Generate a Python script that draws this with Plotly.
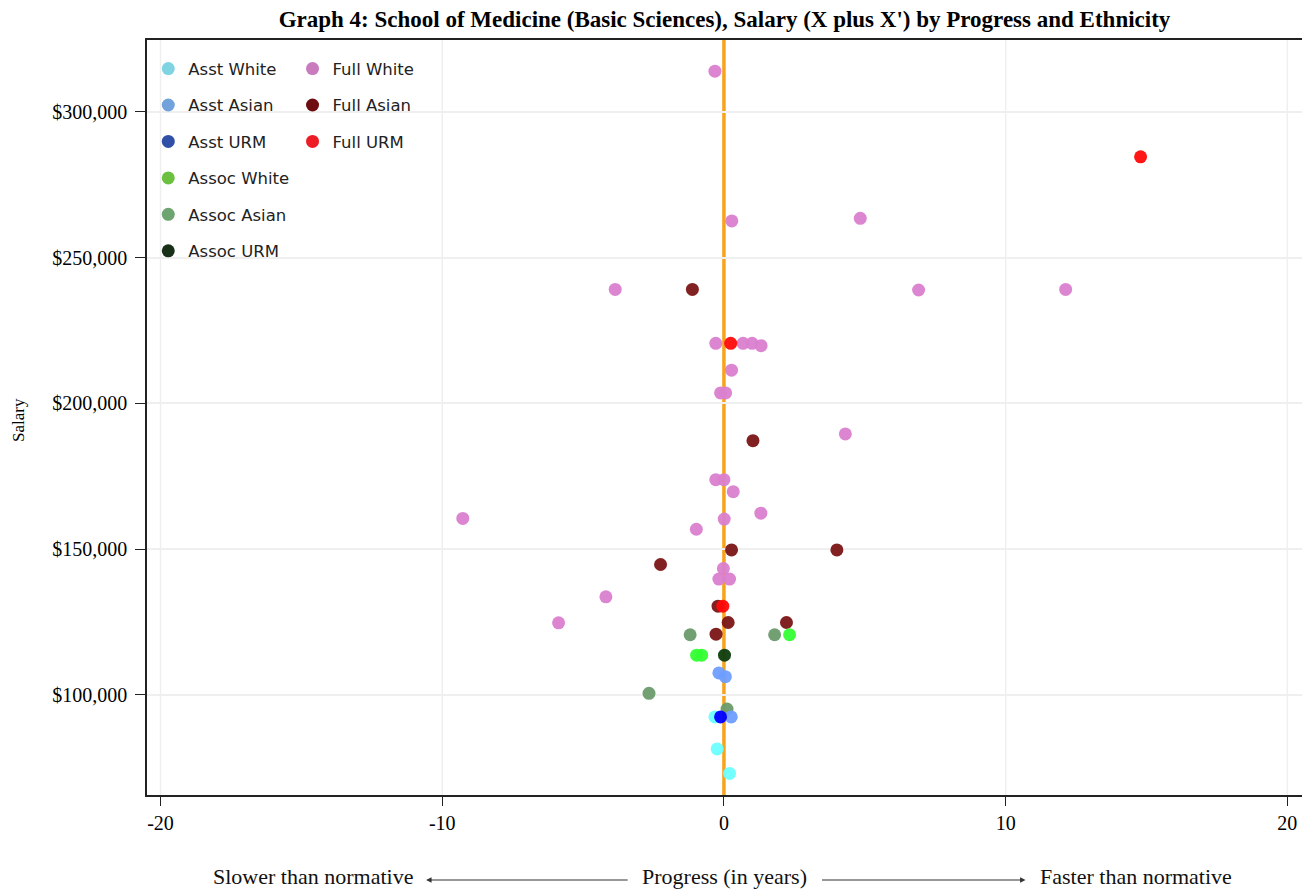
import plotly.graph_objects as go

# ---------------- data (progress in years, salary in $) ----------------
groups = ["Asst White", "Asst Asian", "Asst URM", "Assoc White", "Assoc Asian", "Assoc URM",
          "Full White", "Full Asian", "Full URM"]

asst_white_x = [-0.32, -0.24, 0.20]
asst_white_y = [92400, 81400, 73000]

asst_asian_x = [-0.18, 0.05, 0.26]
asst_asian_y = [107500, 106200, 92400]

asst_urm_x = [-0.12]
asst_urm_y = [92400]

assoc_white_x = [2.33, -0.97, -0.79]
assoc_white_y = [120600, 113600, 113600]

assoc_asian_x = [-1.20, 1.80, -2.66, 0.11]
assoc_asian_y = [120600, 120600, 100500, 95100]

assoc_urm_x = [0.02]
assoc_urm_y = [113600]

full_white_x = [-0.32, 0.28, 4.84, -3.86, 6.91, 12.13, -0.29, 0.68, 1.00, 1.32, 0.27, -0.12, 0.06,
                4.31, -0.29, 0.00, 0.33, 1.31, -9.27, 0.01, -0.98, -0.02, -0.18, 0.20, -4.19, -5.87]
full_white_y = [314000, 262600, 263500, 239100, 238900, 239100, 220600, 220600, 220600, 219800,
                211400, 203600, 203600, 189500, 173800, 173800, 169700, 162300, 160500, 160300,
                156800, 143300, 139700, 139700, 133600, 124700]

full_asian_x = [-1.12, 1.03, 4.01, 0.27, -2.25, -0.21, 0.15, 2.22, -0.28]
full_asian_y = [239100, 187200, 149700, 149700, 144700, 130400, 124800, 124800, 120800]

full_urm_x = [14.79, 0.24, -0.04]
full_urm_y = [284600, 220600, 130400]

xs = [asst_white_x, asst_asian_x, asst_urm_x, assoc_white_x, assoc_asian_x, assoc_urm_x,
      full_white_x, full_asian_x, full_urm_x]
ys = [asst_white_y, asst_asian_y, asst_urm_y, assoc_white_y, assoc_asian_y, assoc_urm_y,
      full_white_y, full_asian_y, full_urm_y]

marker_colors = ["#6CFFFF", "#6E9EFF", "#0000FF", "#33FF33", "#6B9B6B", "#0E3D0E",
                 "#DA7FCF", "#7B1515", "#FF0A0A"]
legend_colors = ["#80D4E2", "#72A2DC", "#3050A8", "#6CC040", "#6EA470", "#173017",
                 "#C97BBE", "#6E0E10", "#EE1C25"]

x_ticks = [-20, -10, 0, 10, 20]
x_tick_labels = ["-20", "-10", "0", "10", "20"]
y_ticks = [100000, 150000, 200000, 250000, 300000]
y_tick_labels = ["$100,000", "$150,000", "$200,000", "$250,000", "$300,000"]
ref_line_x = 0

title_text = "Graph 4: School of Medicine (Basic Sciences), Salary (X plus X') by Progress and Ethnicity"

SERIF = "Liberation Serif, Times New Roman, serif"
SANS = "DejaVu Sans, Verdana, sans-serif"
GRID = "#EFEFEF"

fig = go.Figure()

# data traces
draw_order = [6, 7, 8, 4, 3, 5, 1, 0, 2]
for i in draw_order:
    fig.add_trace(go.Scatter(
        x=xs[i], y=ys[i], mode="markers", name=groups[i], showlegend=False,
        marker=dict(color=marker_colors[i], size=13, opacity=0.95, line=dict(width=0)),
        hoverinfo="x+y+name"))

# legend-only traces (legend swatches use muted colours, as in the original)
for i, g in enumerate(groups):
    fig.add_trace(go.Scatter(
        x=[None], y=[None], mode="markers", name=g,
        legend="legend" if i < 6 else "legend2",
        legendgroup=g,
        marker=dict(color=legend_colors[i], size=13)))

# vertical grid lines (drawn as shapes so the orange reference line can sit on top)
for v in x_ticks:
    if v != ref_line_x:
        fig.add_shape(type="line", xref="x", yref="paper", x0=v, x1=v, y0=0, y1=1,
                      line=dict(color=GRID, width=1.5), layer="below")

# vertical reference line at 0
fig.add_shape(type="line", xref="x", yref="paper", x0=ref_line_x, x1=ref_line_x, y0=0, y1=1,
              line=dict(color="#F7A31C", width=3.5), layer="between")

legend_style = dict(font=dict(family=SANS, size=16.5, color="#222222"),
                    bgcolor="rgba(0,0,0,0)", tracegroupgap=12, itemsizing="trace",
                    yanchor="top", xanchor="left")

# figure is offset 8px by the page body margin -> size compensated
fig.update_layout(
    width=1302, height=882,
    margin=dict(l=139, r=6, t=32, b=95),
    paper_bgcolor="white", plot_bgcolor="white",
    title=dict(text="<b>" + title_text + "</b>", x=0.5, xref="paper", xanchor="center",
               y=0.988, yref="container", yanchor="middle",
               font=dict(family=SERIF, size=23, color="black")),
    legend=dict(x=0.0011, y=0.985, **legend_style),
    legend2=dict(x=0.126, y=0.985, **legend_style),
    xaxis=dict(range=[-20.48, 20.52], tickvals=x_ticks, ticktext=x_tick_labels,
               showgrid=False, zeroline=False,
               showline=True, linecolor="#222222", linewidth=1.5, mirror=True,
               ticks="outside", ticklen=9, tickcolor="#222222", ticklabelstandoff=0,
               tickfont=dict(family=SERIF, size=20, color="black")),
    yaxis=dict(range=[65600, 324700], tickvals=y_ticks, ticktext=y_tick_labels,
               showgrid=True, gridcolor=GRID, gridwidth=1.5, zeroline=False,
               showline=True, linecolor="#222222", linewidth=1.5, mirror=True,
               ticks="outside", ticklen=10, tickcolor="#222222", ticklabelstandoff=4,
               tickfont=dict(family=SERIF, size=20, color="black")),
)

ann_font = dict(family=SERIF, size=22, color="#111111")
fig.add_annotation(text="Salary", xref="paper", yref="paper", x=-0.1106, y=0.497,
                   xanchor="center", yanchor="middle",
                   textangle=-90, showarrow=False, font=dict(family=SERIF, size=17, color="black"))
fig.add_annotation(text="Slower than normative", xref="paper", yref="paper", x=0.1441, y=-0.1086,
                   xanchor="center", yanchor="middle", showarrow=False, font=ann_font)
fig.add_annotation(text="Progress (in years)", xref="paper", yref="paper", x=0.4996, y=-0.1086,
                   xanchor="center", yanchor="middle", showarrow=False, font=ann_font)
fig.add_annotation(text="Faster than normative", xref="paper", yref="paper", x=0.856, y=-0.1086,
                   xanchor="center", yanchor="middle", showarrow=False, font=ann_font)
# arrows
fig.add_annotation(text="", xref="paper", yref="paper", x=0.2417, y=-0.1126,
                   ax=203, ay=0, axref="pixel", ayref="pixel", showarrow=True,
                   arrowhead=2, arrowsize=0.9, arrowwidth=1.2, arrowcolor="#333333")
fig.add_annotation(text="", xref="paper", yref="paper", x=0.7606, y=-0.1126,
                   ax=-205, ay=0, axref="pixel", ayref="pixel", showarrow=True,
                   arrowhead=2, arrowsize=0.9, arrowwidth=1.2, arrowcolor="#333333")

fig.write_html("out.html")
